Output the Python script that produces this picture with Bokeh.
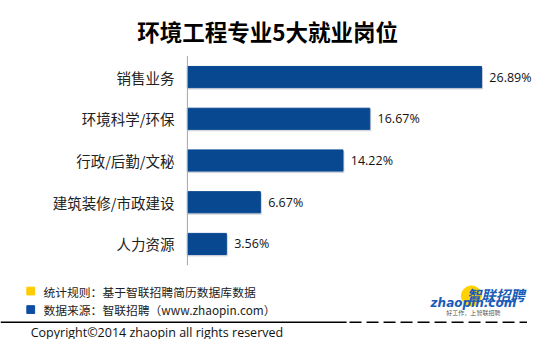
from bokeh.plotting import figure
from bokeh.models import Range1d, ColumnDataSource
from bokeh.core.properties import value
from bokeh.embed import file_html
from bokeh.resources import INLINE

# ---- data ----
categories = ["销售业务", "环境科学/环保", "行政/后勤/文秘", "建筑装修/市政建设", "人力资源"]
shares = [26.89, 16.67, 14.22, 6.67, 3.56]
share_labels = ["26.89%", "16.67%", "14.22%", "6.67%", "3.56%"]
title_text = "环境工程专业5大就业岗位"
note_rule = "统计规则：基于智联招聘简历数据库数据"
note_source = "数据来源：智联招聘（www.zhaopin.com）"
copyright_text = "Copyright©2014 zhaopin all rights reserved"

# ---- layout helpers (reference pixel -> percent units) ----
W, H = 534, 339
S = 0.975
X0 = 191.7
PX_PER_PCT = 11.22
def X(px):
    return (px - X0) / PX_PER_PCT

CJK = value("Noto Sans CJK SC")
LAT = value("Open Sans")

p = figure(width=W, height=H, output_backend="svg", toolbar_location=None,
           x_range=Range1d(X(0), X(W / S)), y_range=Range1d(H / S, 0),
           min_border=0, min_border_left=0, min_border_right=0,
           min_border_top=0, min_border_bottom=0)
p.axis.visible = False
p.grid.visible = False
p.outline_line_color = None
p.background_fill_color = "white"

row0, step, bar_h = 78.5, 42.8, 21.7
ys = [row0 + i * step for i in range(len(categories))]
src = ColumnDataSource(dict(y=ys, v=shares, lab=share_labels, cat=categories,
                            ys=[y + 1.5 for y in ys],
                            vs=[v + 1.0 / PX_PER_PCT for v in shares],
                            lx=[v + 8 / PX_PER_PCT for v in shares]))

# bar shadows and bars
p.hbar(y="ys", left=0, right="vs", height=bar_h, source=src, color="#c4c8d0", alpha=0.7)
p.hbar(y="y", left=0, right="v", height=bar_h, source=src, color="#074891")

# axis line
p.segment(x0=[0], y0=[57], x1=[0], y1=[271.5], line_color="#a6a6a6", line_width=1)

# value labels
p.text(x="lx", y="y", text="lab", source=src, text_font=LAT, text_font_size="12.5px",
       text_baseline="middle", text_align="left", text_color="#111111")

# category labels
p.text(x=X(178.5), y="y", text="cat", source=src, text_font=CJK, text_font_size="14.5px",
       text_baseline="middle", text_align="right", text_color="#222222")

# title
p.text(x=[X(274)], y=[31.5], text=[title_text], text_font=CJK, text_font_size="22.5px",
       text_font_style="bold", text_align="center", text_baseline="middle", text_color="#000000")

# notes with coloured squares
p.rect(x=[X(31), X(31)], y=[298, 317], width=8 / PX_PER_PCT, height=8,
       color=["#FFCC00", "#0C4EA2"])
p.text(x=[X(44), X(44)], y=[298, 317], text=[note_rule, note_source], text_font=CJK,
       text_font_size="11.8px", text_baseline="middle", text_align="left", text_color="#222222")

# bottom rule
p.segment(x0=[X(0)], y0=[330], x1=[X(355)], y1=[330], line_color="#000000", line_width=1.5)
p.segment(x0=[X(358)], y0=[330], x1=[X(540)], y1=[330], line_color="#000000", line_width=1.5,
          line_dash="12 5")

# logo
p.scatter(x=[X(483)], y=[303], size=20, color="#FFD200")
p.text(x=[X(508)], y=[301.5], text=["智联招聘"], text_font=CJK, text_font_size="14.5px",
       text_font_style="bold italic", text_align="center", text_baseline="middle",
       text_color="#1A5CB8")
p.text(x=[X(485)], y=[310.5], text=["zhaopin.com"], text_font=value("DejaVu Sans"),
       text_font_size="12px", text_font_style="bold italic", text_align="center",
       text_baseline="middle", text_color="#1A5CB8")
p.text(x=[X(485)], y=[320], text=["好工作，上智联招聘"], text_font=CJK, text_font_size="6px",
       text_align="center", text_baseline="middle", text_color="#555555")

# copyright
p.text(x=[X(31)], y=[340], text=[copyright_text], text_font=LAT, text_font_size="12.5px",
       text_baseline="middle", text_align="left", text_color="#111111")

open("out.html", "w").write(file_html(p, INLINE))
